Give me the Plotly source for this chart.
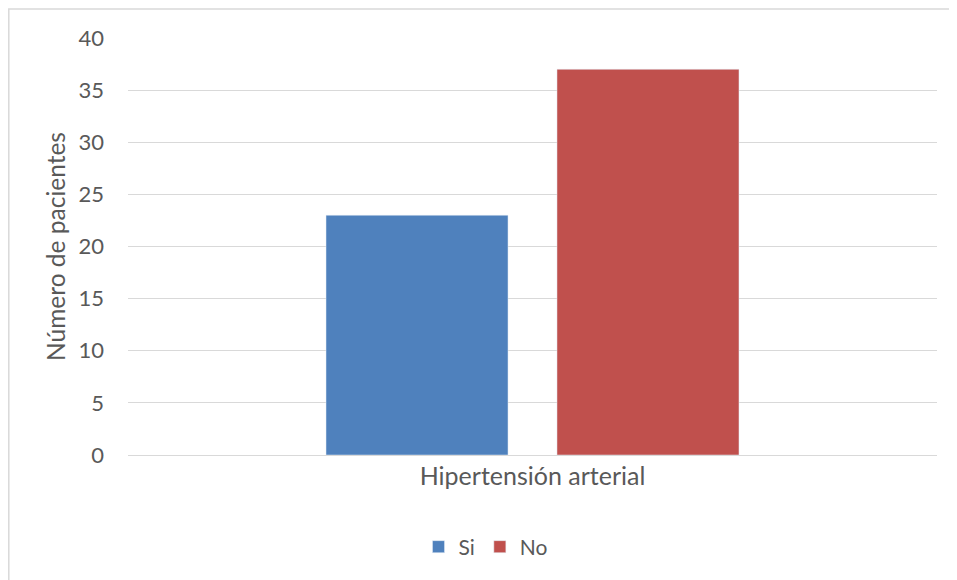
import plotly.graph_objects as go

categories = ["Hipertensión arterial"]
series_names = ["Si", "No"]
si_values = [23]
no_values = [37]
colors = ["#4F81BD", "#C0504D"]

# page has an 8px body margin; compensate so the plot lands where the reference has it
OFF = 8
W, H = 957 - OFF, 580 - OFF
L, R, T, B = 128 - OFF, 20, 38 - OFF, 125
pw, ph = W - L - R, H - T - B

fig = go.Figure()
fig.add_trace(go.Bar(name=series_names[0], x=categories, y=si_values, marker_color=colors[0]))
fig.add_trace(go.Bar(name=series_names[1], x=categories, y=no_values, marker_color=colors[1]))

font_fam = "Lato, Open Sans, sans-serif"
fig.update_layout(
    width=W, height=H,
    margin=dict(l=L, r=R, t=T, b=B),
    paper_bgcolor="white", plot_bgcolor="white",
    barmode="group", bargap=0.429, bargroupgap=0.212,
    font=dict(family=font_fam, color="#595959", size=21),
    xaxis=dict(showgrid=False, showline=False, ticks="", tickfont=dict(size=25),
               ticklabelstandoff=4),
    yaxis=dict(range=[0, 40], dtick=5, showgrid=True, gridcolor="#D9D9D9", gridwidth=1,
               zeroline=True, zerolinecolor="#D9D9D9", zerolinewidth=1,
               ticks="", tickfont=dict(size=22), ticklabelstandoff=23,
               title=dict(text="Número de pacientes", font=dict(size=24.5), standoff=5)),
    legend=dict(orientation="h", x=(486 - 128) / pw, xanchor="center",
                y=(455 - 547) / ph, yanchor="middle", font=dict(size=21),
                itemwidth=30, traceorder="normal"),
    showlegend=True,
)
fig.add_shape(type="rect", xref="paper", yref="paper",
              x0=(0.8 - L) / pw, x1=(W + 10 - L) / pw,
              y0=(455 - 590) / ph, y1=(455 - 9) / ph,
              line=dict(color="#D9D9D9", width=1.5), fillcolor="rgba(0,0,0,0)", layer="below")
fig.write_html("out.html")
